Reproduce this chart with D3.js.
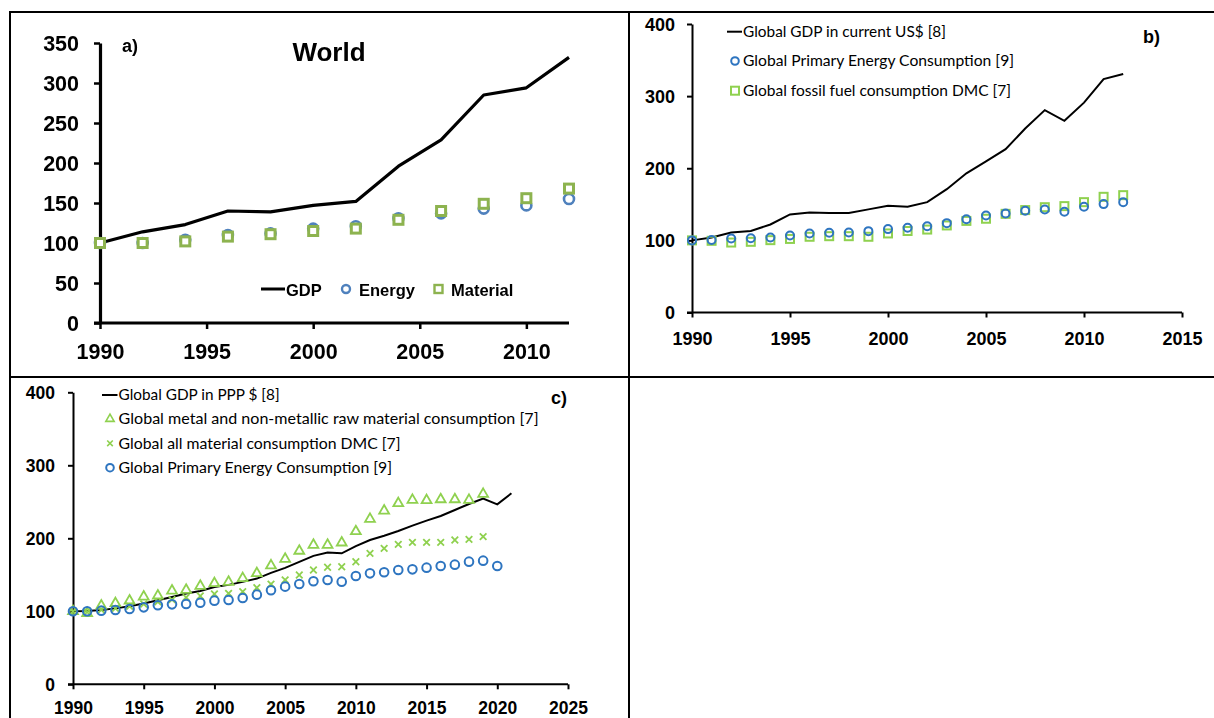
<!DOCTYPE html>
<html>
<head>
<meta charset="utf-8">
<script src="https://cdn.jsdelivr.net/npm/d3@7"></script>
<style>
  body { margin: 0; background: #fff; }
  svg { display: block; }
</style>
</head>
<body>
<svg id="fig" width="1214" height="718"></svg>
<script>
// ---------- Panel a) World: index 1990 = 100, every second year ----------
const yearsA    = [1990, 1992, 1994, 1996, 1998, 2000, 2002, 2004, 2006, 2008, 2010, 2012];
const gdpA      = [100, 114, 123, 140, 139, 147, 152, 196, 229, 285, 294, 332];
const energyA   = [100, 100, 104, 110, 112, 118, 121, 131, 137, 143, 147, 155];
const materialA = [100, 100, 102, 108, 111, 115, 118, 129, 140, 149, 156, 168];
const xTicksA   = [1990, 1995, 2000, 2005, 2010];
const yTicksA   = [0, 50, 100, 150, 200, 250, 300, 350];

// ---------- Panel b) current US$ GDP vs energy and fossil fuels ----------
const yearsB  = [1990, 1991, 1992, 1993, 1994, 1995, 1996, 1997, 1998, 1999, 2000, 2001,
                 2002, 2003, 2004, 2005, 2006, 2007, 2008, 2009, 2010, 2011, 2012];
const gdpB    = [100, 104, 111, 113, 122, 136, 138.7, 138, 138, 143, 148, 146.5,
                 153, 171, 193, 209.5, 226.5, 255, 280.6, 265.8, 291, 323.6, 330.6];
const energyB = [100, 100.5, 102.6, 103, 104, 106.8, 109.6, 110.5, 111, 112.8, 115.6, 117.4,
                 119.7, 123.9, 129.4, 134.6, 137.3, 141, 142.9, 139.6, 146.5, 150.3, 153];
const fossilB = [100, 99.4, 97, 98, 100.3, 102, 105, 105.8, 105.8, 105, 109.6, 113,
                 115, 120.7, 127, 130, 136.8, 142, 146, 147.5, 153, 160.4, 162.7];
const xTicksB = [1990, 1995, 2000, 2005, 2010, 2015];
const yTicksB = [0, 100, 200, 300, 400];
const legendB = ["Global GDP in current US$ [8]",
                 "Global Primary Energy Consumption [9]",
                 "Global fossil fuel consumption DMC [7]"];

// ---------- Panel c) PPP GDP vs materials and energy ----------
const yearsGdpC = [1990, 1991, 1992, 1993, 1994, 1995, 1996, 1997, 1998, 1999, 2000, 2001,
                   2002, 2003, 2004, 2005, 2006, 2007, 2008, 2009, 2010, 2011, 2012, 2013,
                   2014, 2015, 2016, 2017, 2018, 2019, 2020, 2021];
const gdpC      = [100, 100.5, 101.8, 104, 107, 110.6, 115.2, 119.7, 124.3, 127.9, 133.4, 136.2,
                   140.3, 144.8, 152.6, 159.5, 167.7, 175.9, 180.5, 179.4, 189.4, 197.7, 203.6, 210,
                   217.3, 224.2, 230.5, 238.8, 247, 254.3, 246.5, 261.6];
const yearsMatC = [1990, 1991, 1992, 1993, 1994, 1995, 1996, 1997, 1998, 1999, 2000, 2001,
                   2002, 2003, 2004, 2005, 2006, 2007, 2008, 2009, 2010, 2011, 2012, 2013,
                   2014, 2015, 2016, 2017, 2018, 2019];
const metalC    = [100, 97.4, 107.7, 110.9, 114.6, 120, 121.4, 128.2, 129.2, 134.7, 138.3, 140.2,
                   145.2, 152, 162.6, 171.7, 182.7, 190.9, 190.9, 194, 209.5, 226.4, 237.8, 247.9,
                   252.4, 252, 253.3, 253.3, 252.4, 260.6];
const dmcC      = [100, 99, 102, 104, 107, 110, 113, 116, 119, 121, 123.7, 124.6,
                   127, 132.3, 137.3, 143, 149.7, 156.6, 160.3, 161, 167.9, 179.3, 186.2, 191.7,
                   194.5, 194.5, 194.5, 197.7, 198.6, 202.3];
const yearsEnC  = [1990, 1991, 1992, 1993, 1994, 1995, 1996, 1997, 1998, 1999, 2000, 2001,
                   2002, 2003, 2004, 2005, 2006, 2007, 2008, 2009, 2010, 2011, 2012, 2013,
                   2014, 2015, 2016, 2017, 2018, 2019, 2020];
const energyC   = [100, 100, 100.9, 101.8, 103.2, 105.4, 108.2, 109.5, 110, 111.8, 114.6, 115.5,
                   118.3, 122.8, 128.8, 133.8, 137.4, 141.1, 142.9, 140.6, 148.4, 152, 153.4, 156.6,
                   157.5, 159.8, 162.1, 163.9, 168, 169.4, 162.1];
const xTicksC = [1990, 1995, 2000, 2005, 2010, 2015, 2020, 2025];
const yTicksC = [0, 100, 200, 300, 400];
const legendC = ["Global GDP in PPP $ [8]",
                 "Global metal and non-metallic raw material consumption [7]",
                 "Global all material consumption DMC [7]",
                 "Global Primary Energy Consumption [9]"];

const BLUE_A = "#4f81bd", GREEN_A = "#8db34f";
const BLUE = "#2e75c0", GREEN = "#8fd14f";
const BOLD_FONT = "'Liberation Sans', Arial, sans-serif";
const TEXT_FONT = "Lato, 'Open Sans', sans-serif";

const svg = d3.select("#fig");
svg.append("rect").attr("width", 1214).attr("height", 718).attr("fill", "#fff");

// panel a is a softened raster in the source layout
svg.append("defs").append("filter").attr("id", "soft")
  .append("feGaussianBlur").attr("stdDeviation", 0.45);

// table grid around the three panels
const grid = svg.append("g").attr("stroke", "#000").attr("stroke-width", 2);
grid.append("line").attr("x1", 9).attr("x2", 1214).attr("y1", 12).attr("y2", 12);
grid.append("line").attr("x1", 10).attr("x2", 10).attr("y1", 11).attr("y2", 718);
grid.append("line").attr("x1", 629).attr("x2", 629).attr("y1", 11).attr("y2", 718);
grid.append("line").attr("x1", 9).attr("x2", 1214).attr("y1", 377).attr("y2", 377);

const zip = (xs, ys) => xs.map((x, i) => ({ x, y: ys[i] }));

function drawAxes(g, x, y, o) {
  const x0 = x.range()[0], y0 = y.range()[0];
  const gx = g.append("g").attr("transform", `translate(0,${y0})`)
    .call(d3.axisBottom(x).tickValues(o.xTicks).tickFormat(d3.format("d"))
      .tickSizeInner(o.tick).tickSizeOuter(0));
  gx.select(".domain").attr("d", `M${x0 - o.tick},0H${x.range()[1]}`);
  const gy = g.append("g").attr("transform", `translate(${x0},0)`)
    .call(d3.axisLeft(y).tickValues(o.yTicks).tickSizeInner(o.tick).tickSizeOuter(0));
  [gx, gy].forEach(a => {
    a.attr("font-family", null).attr("font-size", null);
    a.select(".domain").attr("stroke", "#000").attr("stroke-width", o.sw).attr("fill", "none");
    a.selectAll(".tick line").attr("stroke", "#000").attr("stroke-width", o.tw);
    a.selectAll(".tick text").attr("fill", "#000")
      .style("font-family", BOLD_FONT).style("font-weight", "bold").style("font-size", o.fs + "px");
  });
  gx.selectAll(".tick text").attr("y", o.xBase).attr("dy", null);
  gy.selectAll(".tick text").attr("x", -o.yGap).attr("dy", "0.36em");
}

function legendText(g, x, y, str, len) {
  g.append("text").attr("x", x).attr("y", y).text(str)
    .attr("textLength", len).attr("lengthAdjust", "spacingAndGlyphs")
    .style("font-family", TEXT_FONT).style("font-size", "15px").attr("fill", "#000");
}

// ================= Panel a =================
{
  const g = svg.append("g").attr("filter", "url(#soft)");
  const x = d3.scaleLinear().domain([1990, 2012]).range([100, 569]);
  const y = d3.scaleLinear().domain([0, 350]).range([323, 43]);
  drawAxes(g, x, y, { xTicks: xTicksA, yTicks: yTicksA, tick: 6, sw: 3.2, tw: 2.5,
                      fs: 21.5, xBase: 36, yGap: 21 });

  g.append("path").datum(zip(yearsA, gdpA))
    .attr("d", d3.line().x(d => x(d.x)).y(d => y(d.y)))
    .attr("fill", "none").attr("stroke", "#000").attr("stroke-width", 3.2).attr("stroke-linejoin", "round");

  g.selectAll("circle.en").data(zip(yearsA, energyA)).join("circle").attr("class", "en")
    .attr("cx", d => x(d.x)).attr("cy", d => y(d.y)).attr("r", 5)
    .attr("fill", "#fff").attr("stroke", BLUE_A).attr("stroke-width", 2.6);
  g.selectAll("rect.mat").data(zip(yearsA, materialA)).join("rect").attr("class", "mat")
    .attr("x", d => x(d.x) - 4.5).attr("y", d => y(d.y) - 4.5).attr("width", 9).attr("height", 9)
    .attr("fill", "#fff").attr("stroke", GREEN_A).attr("stroke-width", 3);

  g.append("text").attr("x", 329).attr("y", 61).attr("text-anchor", "middle").text("World")
    .style("font-family", BOLD_FONT).style("font-weight", "bold").style("font-size", "26px");
  g.append("text").attr("x", 122).attr("y", 52).text("a)")
    .style("font-family", BOLD_FONT).style("font-weight", "bold").style("font-size", "18px");

  // legend
  const lg = g.append("g").style("font-family", BOLD_FONT).style("font-weight", "bold").style("font-size", "16.5px");
  lg.append("line").attr("x1", 261).attr("x2", 285).attr("y1", 289).attr("y2", 289)
    .attr("stroke", "#000").attr("stroke-width", 3);
  lg.append("text").attr("x", 286).attr("y", 296).text("GDP");
  lg.append("circle").attr("cx", 346).attr("cy", 289).attr("r", 4)
    .attr("fill", "#fff").attr("stroke", BLUE_A).attr("stroke-width", 2.4);
  lg.append("text").attr("x", 359).attr("y", 296).text("Energy");
  lg.append("rect").attr("x", 434.5).attr("y", 285).attr("width", 8).attr("height", 8)
    .attr("fill", "#fff").attr("stroke", GREEN_A).attr("stroke-width", 2.4);
  lg.append("text").attr("x", 451).attr("y", 296).text("Material");
}

// ================= Panel b =================
{
  const g = svg.append("g");
  const x = d3.scaleLinear().domain([1990, 2015]).range([692, 1182]);
  const y = d3.scaleLinear().domain([0, 400]).range([312.5, 24]);
  drawAxes(g, x, y, { xTicks: xTicksB, yTicks: yTicksB, tick: 5, sw: 2, tw: 2,
                      fs: 18, xBase: 32.5, yGap: 17 });

  g.append("path").datum(zip(yearsB, gdpB))
    .attr("d", d3.line().x(d => x(d.x)).y(d => y(d.y)))
    .attr("fill", "none").attr("stroke", "#000").attr("stroke-width", 2);

  g.selectAll("rect.fos").data(zip(yearsB, fossilB)).join("rect").attr("class", "fos")
    .attr("x", d => x(d.x) - 4).attr("y", d => y(d.y) - 4).attr("width", 8).attr("height", 8)
    .attr("fill", "none").attr("stroke", GREEN).attr("stroke-width", 2);
  g.selectAll("circle.en").data(zip(yearsB, energyB)).join("circle").attr("class", "en")
    .attr("cx", d => x(d.x)).attr("cy", d => y(d.y)).attr("r", 4)
    .attr("fill", "none").attr("stroke", BLUE).attr("stroke-width", 2);

  g.append("text").attr("x", 1143).attr("y", 43).text("b)")
    .style("font-family", BOLD_FONT).style("font-weight", "bold").style("font-size", "18px");

  const rows = [31.7, 61, 90.7];
  g.append("line").attr("x1", 727).attr("x2", 742).attr("y1", rows[0]).attr("y2", rows[0])
    .attr("stroke", "#000").attr("stroke-width", 2);
  g.append("circle").attr("cx", 735).attr("cy", rows[1]).attr("r", 3.8)
    .attr("fill", "none").attr("stroke", BLUE).attr("stroke-width", 2);
  g.append("rect").attr("x", 731).attr("y", rows[2] - 4).attr("width", 8).attr("height", 8)
    .attr("fill", "none").attr("stroke", GREEN).attr("stroke-width", 2);
  const lensB = [203, 271, 268];
  legendB.forEach((s, i) => legendText(g, 743, rows[i] + 5.2, s, lensB[i]));
}

// ================= Panel c =================
{
  const g = svg.append("g");
  const x = d3.scaleLinear().domain([1990, 2025]).range([73, 568]);
  const y = d3.scaleLinear().domain([0, 400]).range([684.3, 392.3]);
  drawAxes(g, x, y, { xTicks: xTicksC, yTicks: yTicksC, tick: 5, sw: 2, tw: 2,
                      fs: 17.5, xBase: 30, yGap: 18 });

  g.append("path").datum(zip(yearsGdpC, gdpC))
    .attr("d", d3.line().x(d => x(d.x)).y(d => y(d.y)))
    .attr("fill", "none").attr("stroke", "#000").attr("stroke-width", 2);

  const tri = d3.symbol(d3.symbolTriangle, 42);
  g.selectAll("path.metal").data(zip(yearsMatC, metalC)).join("path").attr("class", "metal")
    .attr("d", tri).attr("transform", d => `translate(${x(d.x)},${y(d.y)})`)
    .attr("fill", "none").attr("stroke", GREEN).attr("stroke-width", 1.8);

  const cross = "M-3.3,-3.3L3.3,3.3M-3.3,3.3L3.3,-3.3";
  g.selectAll("path.dmc").data(zip(yearsMatC, dmcC)).join("path").attr("class", "dmc")
    .attr("d", cross).attr("transform", d => `translate(${x(d.x)},${y(d.y)})`)
    .attr("fill", "none").attr("stroke", GREEN).attr("stroke-width", 1.8);

  g.selectAll("circle.en").data(zip(yearsEnC, energyC)).join("circle").attr("class", "en")
    .attr("cx", d => x(d.x)).attr("cy", d => y(d.y)).attr("r", 4.3)
    .attr("fill", "none").attr("stroke", BLUE).attr("stroke-width", 2);

  g.append("text").attr("x", 551).attr("y", 404).text("c)")
    .style("font-family", BOLD_FONT).style("font-weight", "bold").style("font-size", "18px");

  const rows = [395, 419, 443.3, 467.7];
  g.append("line").attr("x1", 102).attr("x2", 117.5).attr("y1", rows[0]).attr("y2", rows[0])
    .attr("stroke", "#000").attr("stroke-width", 2);
  g.append("path").attr("d", d3.symbol(d3.symbolTriangle, 30))
    .attr("transform", `translate(110,${rows[1]})`)
    .attr("fill", "none").attr("stroke", GREEN).attr("stroke-width", 1.6);
  g.append("path").attr("d", "M-2.8,-2.8L2.8,2.8M-2.8,2.8L2.8,-2.8")
    .attr("transform", `translate(110,${rows[2]})`)
    .attr("fill", "none").attr("stroke", GREEN).attr("stroke-width", 1.6);
  g.append("circle").attr("cx", 110).attr("cy", rows[3]).attr("r", 3.8)
    .attr("fill", "none").attr("stroke", BLUE).attr("stroke-width", 2);
  const lensC = [161, 420, 282, 273.5];
  legendC.forEach((s, i) => legendText(g, 118.6, rows[i] + 5.2, s, lensC[i]));
}
</script>
</body>
</html>
